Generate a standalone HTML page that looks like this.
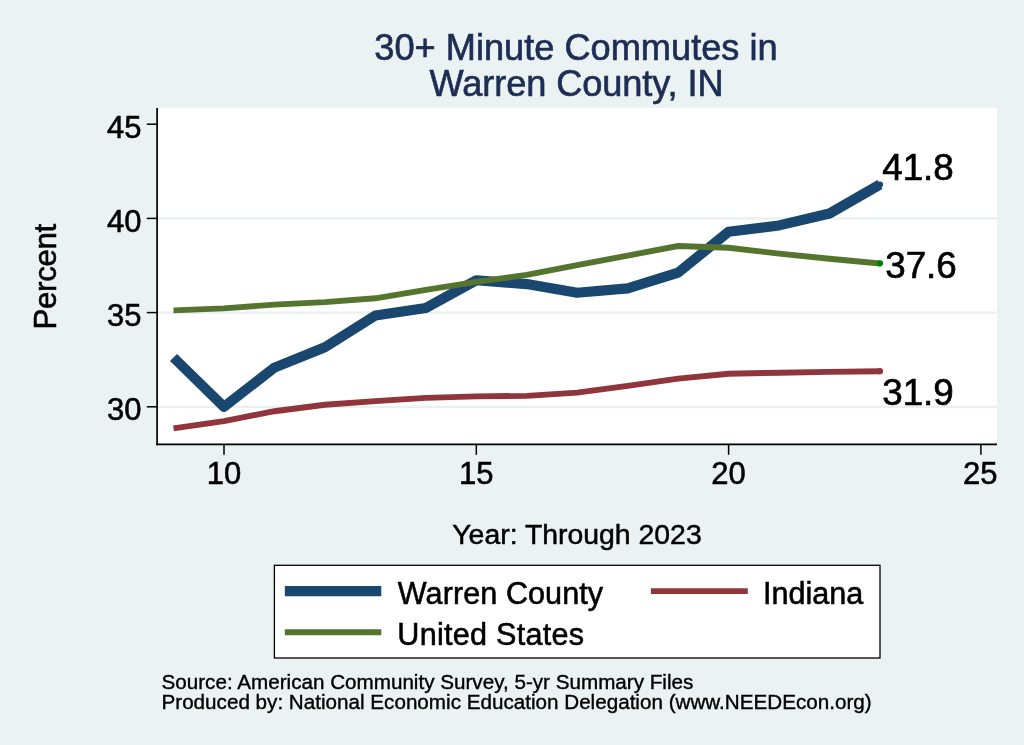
<!DOCTYPE html>
<html lang="en"><head><meta charset="utf-8"><title>30+ Minute Commutes in Warren County, IN</title>
<style>
html,body{margin:0;padding:0;background:#eaf2f3;}
body{width:1024px;height:745px;overflow:hidden;}
svg{display:block;font-family:"Liberation Sans",Arial,Helvetica,sans-serif;}
</style></head><body>
<svg width="1024" height="745" viewBox="0 0 1024 745">
<rect width="1024" height="745" fill="#eaf2f3"/>
<rect x="156.3" y="107.8" width="840.7" height="336.6" fill="#fff"/>
<line x1="157.1" x2="997" y1="406.8" y2="406.8" stroke="#e8f0f2" stroke-width="2.3"/>
<line x1="157.1" x2="997" y1="312.6" y2="312.6" stroke="#e8f0f2" stroke-width="2.3"/>
<line x1="157.1" x2="997" y1="218.4" y2="218.4" stroke="#e8f0f2" stroke-width="2.3"/>
<polyline points="173.5,357.5 224.0,406.8 274.5,367.6 324.9,347.3 375.4,315.5 425.8,308.0 476.3,280.3 526.8,284.1 577.2,292.7 627.7,288.4 678.1,272.6 728.6,231.8 779.1,225.4 829.5,213.5 880.0,184.5" fill="none" stroke="#1a476f" stroke-width="10.1" stroke-linejoin="round" stroke-linecap="butt"/>
<polyline points="173.5,428.3 224.0,421.1 274.5,411.2 324.9,404.7 375.4,401.1 425.8,397.9 476.3,396.4 526.8,395.9 577.2,392.6 627.7,385.9 678.1,378.6 728.6,373.7 779.1,372.7 829.5,371.9 880.0,371.2" fill="none" stroke="#90353b" stroke-width="5.9" stroke-linejoin="round"/>
<polyline points="173.5,310.4 224.0,308.4 274.5,304.6 324.9,302.1 375.4,298.3 425.8,289.9 476.3,281.9 526.8,274.8 577.2,265.2 627.7,255.6 678.1,246.0 728.6,247.8 779.1,253.6 829.5,258.7 880.0,263.5" fill="none" stroke="#55752f" stroke-width="5.9" stroke-linejoin="round"/>
<circle cx="880.0" cy="184.5" r="3.1" fill="#1a476f"/>
<circle cx="880.0" cy="371.2" r="3.1" fill="#90353b"/>
<circle cx="880.0" cy="263.3" r="3.1" fill="#008000"/>
<line x1="157.1" x2="157.1" y1="108.0" y2="445.2" stroke="#000" stroke-width="1.7"/>
<line x1="156.25" x2="997" y1="444.4" y2="444.4" stroke="#000" stroke-width="1.6"/>
<line x1="146.8" x2="157.1" y1="406.8" y2="406.8" stroke="#000" stroke-width="1.5"/>
<text x="141.5" y="420.1" font-size="31" stroke="#000" stroke-width="0.55" text-anchor="end">30</text>
<line x1="146.8" x2="157.1" y1="312.6" y2="312.6" stroke="#000" stroke-width="1.5"/>
<text x="141.5" y="325.9" font-size="31" stroke="#000" stroke-width="0.55" text-anchor="end">35</text>
<line x1="146.8" x2="157.1" y1="218.4" y2="218.4" stroke="#000" stroke-width="1.5"/>
<text x="141.5" y="231.7" font-size="31" stroke="#000" stroke-width="0.55" text-anchor="end">40</text>
<line x1="146.8" x2="157.1" y1="124.2" y2="124.2" stroke="#000" stroke-width="1.5"/>
<text x="141.5" y="137.5" font-size="31" stroke="#000" stroke-width="0.55" text-anchor="end">45</text>
<line x1="224.0" x2="224.0" y1="444.4" y2="454.8" stroke="#000" stroke-width="1.5"/>
<text x="224.0" y="484.3" font-size="31" stroke="#000" stroke-width="0.55" text-anchor="middle">10</text>
<line x1="476.3" x2="476.3" y1="444.4" y2="454.8" stroke="#000" stroke-width="1.5"/>
<text x="476.3" y="484.3" font-size="31" stroke="#000" stroke-width="0.55" text-anchor="middle">15</text>
<line x1="728.6" x2="728.6" y1="444.4" y2="454.8" stroke="#000" stroke-width="1.5"/>
<text x="728.6" y="484.3" font-size="31" stroke="#000" stroke-width="0.55" text-anchor="middle">20</text>
<line x1="980.9" x2="980.9" y1="444.4" y2="454.8" stroke="#000" stroke-width="1.5"/>
<text x="980.3" y="484.3" font-size="31" stroke="#000" stroke-width="0.55" text-anchor="middle">25</text>
<text x="576" y="60" font-size="36.2" text-anchor="middle" fill="#1e2d53" stroke="#1e2d53" stroke-width="0.65">30+ Minute Commutes in</text>
<text x="576.5" y="95.6" letter-spacing="-0.1" font-size="36.2" text-anchor="middle" fill="#1e2d53" stroke="#1e2d53" stroke-width="0.65">Warren County, IN</text>
<text transform="translate(55.7,276.8) rotate(-90)" letter-spacing="-0.35" font-size="31.3" stroke="#000" stroke-width="0.55" text-anchor="middle">Percent</text>
<text x="577" y="544" font-size="28.4" stroke="#000" stroke-width="0.5" text-anchor="middle">Year: Through 2023</text>
<text x="882.2" y="180.3" font-size="36.8" stroke="#000" stroke-width="0.65">41.8</text>
<text x="885.2" y="278.1" font-size="36.8" stroke="#000" stroke-width="0.65">37.6</text>
<text x="882.2" y="405.3" font-size="36.8" stroke="#000" stroke-width="0.65">31.9</text>
<rect x="274.4" y="565.3" width="605.6" height="92.7" fill="#fff" stroke="#000" stroke-width="1.3"/>
<line x1="284.85" x2="381.3" y1="591.1" y2="591.1" stroke="#1a476f" stroke-width="10.1"/>
<line x1="284.85" x2="381.3" y1="632.3" y2="632.3" stroke="#55752f" stroke-width="5.9"/>
<line x1="650.9" x2="747.8" y1="591.1" y2="591.1" stroke="#90353b" stroke-width="5.9"/>
<text x="397.8" y="603.7" letter-spacing="0.06" font-size="30.6" stroke="#000" stroke-width="0.55">Warren County</text>
<text x="397.3" y="644.7" letter-spacing="0.25" font-size="30.6" stroke="#000" stroke-width="0.55">United States</text>
<text x="763" y="603.7" font-size="30.6" stroke="#000" stroke-width="0.55">Indiana</text>
<text x="161.5" y="688.9" font-size="20.65" stroke="#000" stroke-width="0.38">Source: American Community Survey, 5-yr Summary Files</text>
<text x="161.5" y="708.8" font-size="20.65" stroke="#000" stroke-width="0.38">Produced by: National Economic Education Delegation (www.NEEDEcon.org)</text>
</svg>
</body></html>
